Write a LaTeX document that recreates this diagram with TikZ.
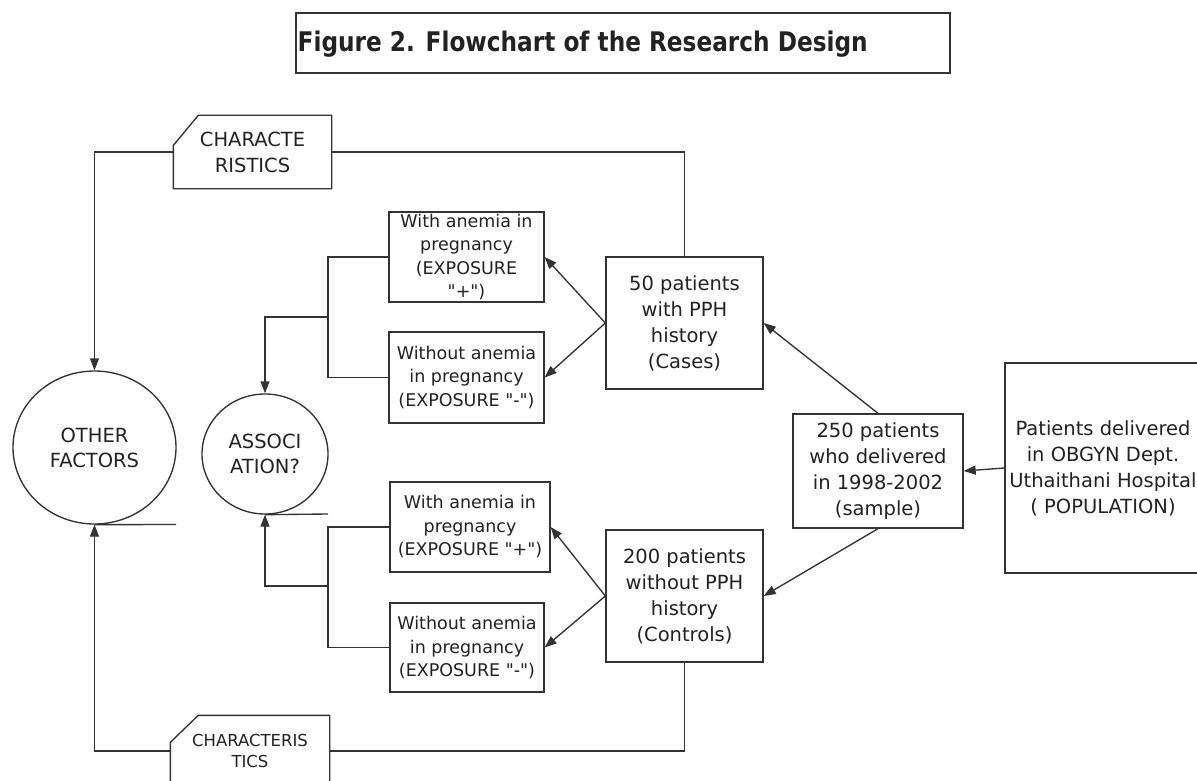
\documentclass[tikz,border=0pt]{standalone}
\usepackage{fontspec}
\setmainfont{DejaVu Sans}
\newfontfamily\titlefont[FakeStretch=0.86]{DejaVu Sans}
\newfontfamily\qfont{DejaVu Sans}
\usetikzlibrary{arrows.meta,shapes.geometric}
\definecolor{ink}{HTML}{222222}
\definecolor{linec}{HTML}{333333}
\newcommand{\dq}{{\qfont"}}
\begin{document}
\begin{tikzpicture}[x=1pt,y=-1pt,line width=1.35pt,
  box/.style={draw=linec, rectangle, inner sep=0pt, align=center, text=ink},
  expo/.style={box, font=\fontsize{17.5}{23.5}\selectfont},
  mainbox/.style={box, font=\fontsize{19.5}{26}\selectfont},
  circ/.style={ellipse, draw=linec, inner sep=0pt, align=center, text=ink, font=\fontsize{19.5}{25}\selectfont},
  charbox/.style={inner sep=0pt, align=center, text=ink},
  conn/.style={draw=linec, line width=1.35pt},
  arr/.style={conn, -{Triangle[length=12pt,width=9pt]}}]
\useasboundingbox (0,0) rectangle (1197,781);
\clip (0,0) rectangle (1197,781);
\fill[white] (0,0) rectangle (1197,781);

% title
\node[draw=linec, minimum width=654, minimum height=60, inner sep=0pt] (titlebox) at (623,43) {};
\node[anchor=base west, inner sep=0pt, text=ink, font=\titlefont\bfseries\fontsize{27}{30}\selectfont] (title) at (297,52) {Figure 2. Flowchart of the Research Design};

% exposure boxes
\node[expo, minimum width=155, minimum height=90] (withT) at (466.5,257) {With anemia in\\pregnancy\\(EXPOSURE\\\dq+\dq)};
\node[expo, minimum width=155, minimum height=91] (woT) at (466.5,377.5) {Without anemia\\in pregnancy\\(EXPOSURE \dq-\dq)};
\node[expo, minimum width=160, minimum height=90] (withB) at (470,527) {With anemia in\\pregnancy\\(EXPOSURE \dq+\dq)};
\node[expo, minimum width=154, minimum height=89] (woB) at (467,647.5) {Without anemia\\in pregnancy\\(EXPOSURE \dq-\dq)};

% main boxes
\node[mainbox, minimum width=157, minimum height=132] (cases) at (684.5,323) {50 patients\\with PPH\\history\\(Cases)};
\node[mainbox, minimum width=157, minimum height=132] (controls) at (684.5,596) {200 patients\\without PPH\\history\\(Controls)};
\node[mainbox, minimum width=170, minimum height=114] (s250) at (878,471) {250 patients\\who delivered\\in 1998-2002\\(sample)};
\node[mainbox, minimum width=196, minimum height=210] (pop) at (1103,468) {Patients delivered\\in OBGYN Dept.\\Uthaithani Hospital\\( POPULATION)};

% circles
\node[circ, minimum width=163, minimum height=153] (other) at (94.5,447.5) {OTHER\\FACTORS};
\node[circ, minimum width=126, minimum height=120] (assoc) at (265,454) {ASSOCI\\ATION?};

% characteristics boxes
\node[charbox, minimum width=157, minimum height=72, font=\fontsize{19.5}{26}\selectfont] (char1) at (252.5,152) {CHARACTE\\RISTICS};
\draw[conn] ([xshift=25pt]char1.north west) -- (char1.north east) -- (char1.south east) -- (char1.south west) -- ([yshift=-30pt]char1.north west) -- cycle;
\node[charbox, minimum width=158, minimum height=70, font=\fontsize{16.5}{21}\selectfont] (char2) at (250,751) {CHARACTERIS\\TICS};
\draw[conn] ([xshift=28pt]char2.north west) -- (char2.north east) -- (char2.south east) -- (char2.south west) -- ([yshift=-27pt]char2.north west) -- cycle;

% helper coordinates
\coordinate (bt) at (328,317);
\coordinate (bb) at (328,586);
\coordinate (u1) at (176,524.5);
\coordinate (u2) at (328,514);

% connectors
\draw[arr] (char1.west) -| (other.north);
\draw[conn] (char1.east) -| (cases.north);
\draw[conn] (controls.south) |- (char2.east);
\draw[arr] (char2.west) -| (other.south);

\draw[conn] (withT.west) -| (bt) |- (woT.west);
\draw[arr] (bt) -| (assoc.north);
\draw[conn] (withB.west) -| (bb) |- (woB.west);
\draw[arr] (bb) -| (assoc.south);

\draw[conn] (other.south) -- (u1);
\draw[conn] (assoc.south) -- (u2);

\draw[arr] (cases.west) -- (withT.east);
\draw[arr] (cases.west) -- (woT.east);
\draw[arr] (controls.west) -- (withB.east);
\draw[arr] (controls.west) -- (woB.east);
\draw[arr] (s250.north) -- (cases.east);
\draw[arr] (s250.south) -- (controls.east);
\draw[arr] (pop.west) -- (s250.east);
\end{tikzpicture}
\end{document}
